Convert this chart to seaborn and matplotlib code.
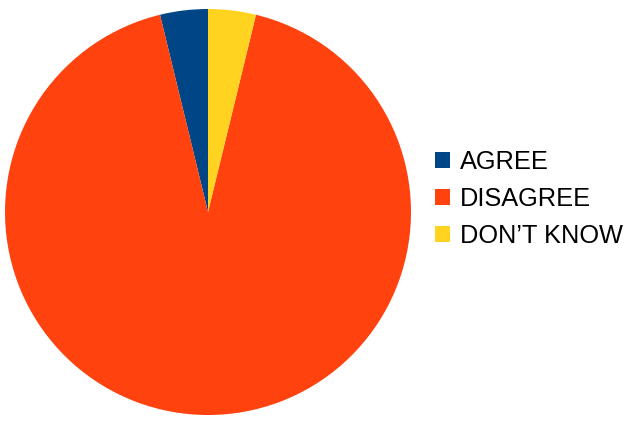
import matplotlib
matplotlib.use("Agg")
import matplotlib.pyplot as plt
import seaborn as sns

categories = ["AGREE", "DISAGREE", "DON\u2019T KNOW"]
values = [3.8, 92.4, 3.8]
colors = ["#004586", "#ff420e", "#ffd320"]

sns.set_theme(style="white")
plt.rcParams['font.family'] = ['Liberation Sans', 'DejaVu Sans']

W, H = 636, 422
fig = plt.figure(figsize=(W / 100, H / 100), dpi=100)
cx, cy, r = 208, 212, 203
ax = fig.add_axes([(cx - r) / W, (H - cy - r) / H, 2 * r / W, 2 * r / H])
wedges, _ = ax.pie(values, colors=colors, startangle=90, counterclock=True,
                   radius=1, wedgeprops=dict(linewidth=0))
ax.set_xlim(-1, 1)
ax.set_ylim(-1, 1)
ax.set_aspect('equal')
ax.axis('off')

fig.legend(wedges, categories, loc='center left',
           bbox_to_anchor=(435 / W, (H - 199) / H), frameon=False,
           fontsize=18.3, handlelength=0.6, handleheight=0.6,
           handletextpad=0.38, labelspacing=0.5, borderpad=0, borderaxespad=0,
           labelcolor='black')

fig.savefig("out.png", dpi=100)
